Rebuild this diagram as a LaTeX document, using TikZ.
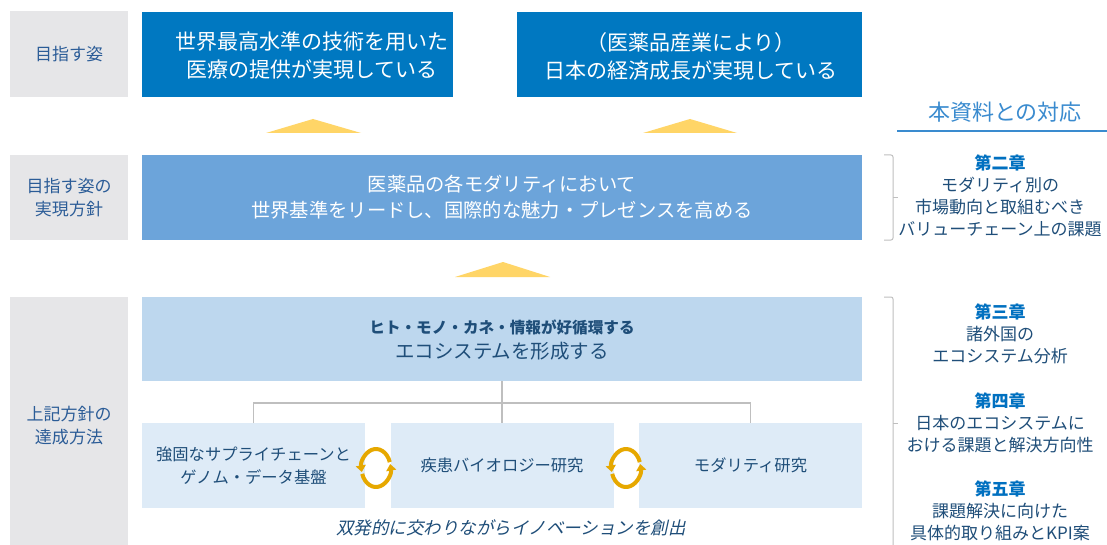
\documentclass[tikz,border=0pt]{standalone}
\usepackage{fontspec}
\setmainfont{Noto Sans CJK JP}
\newfontfamily\slantfont[FakeSlant=0.22]{Noto Sans CJK JP}
\usetikzlibrary{arrows.meta}
\definecolor{graybg}{HTML}{E6E6E8}
\definecolor{topblue}{HTML}{0078C1}
\definecolor{midblue}{HTML}{6CA4DA}
\definecolor{bandblue}{HTML}{BDD7EE}
\definecolor{lightbox}{HTML}{DEEBF7}
\definecolor{navy}{HTML}{1F4E79}
\definecolor{labelblue}{HTML}{2B5C97}
\definecolor{chap}{HTML}{0070C0}
\definecolor{headblue}{HTML}{3A8BCF}
\definecolor{tri}{HTML}{FFD567}
\definecolor{gold}{HTML}{E6A800}
\definecolor{linegray}{HTML}{BFBFBF}
\tikzset{
  fbox/.style={rectangle, inner sep=0pt, outer sep=0pt, align=center},
  graybox/.style={fbox, fill=graybg, text=labelblue, minimum width=118pt, font=\fontsize{17}{23}\selectfont},
  topbox/.style={fbox, fill=topblue, text=white, minimum height=85pt, font=\fontsize{21}{28}\selectfont},
  toptext/.style={align=center, inner sep=0pt, text=white, font=\fontsize{21}{28}\selectfont},
  midbox/.style={fbox, fill=midblue, text=white, minimum width=720pt, minimum height=85pt, font=\fontsize{19.3}{26}\selectfont},
  bandbox/.style={fbox, fill=bandblue, text=navy, minimum width=720pt, minimum height=84pt},
  smallbox/.style={fbox, fill=lightbox, text=navy, minimum width=223pt, minimum height=85pt, font=\fontsize{16.3}{23}\selectfont},
  chaptext/.style={align=center, text=navy, inner sep=0pt, font=\fontsize{17}{22}\selectfont},
  treeline/.style={draw=linegray, line width=1.2pt},
  bracketline/.style={draw=linegray, line width=1pt, rounded corners=2pt},
  cyclearc/.style={draw=gold, line width=4pt, -{Triangle[length=6.5pt,width=10pt]}},
  arrowtri/.style={fill=tri}
}
\newcommand{\chaptitle}[1]{{\bfseries\color{chap}#1}}
\begin{document}
\begin{tikzpicture}[x=1pt,y=-1pt]
\useasboundingbox (0,0) rectangle (1107,545);
\fill[white] (0,0) rectangle (1107,545);
% left labels
\node[graybox, minimum height=86pt] (g1) at (69,54) {目指す姿};
\node[graybox, minimum height=85pt] (g2) at (69,197.5) {目指す姿の\\実現方針};
\node[graybox, minimum height=248pt] (g3) at (69,421) {};
\node[text=labelblue, align=center, inner sep=0pt, font=\fontsize{17}{23}\selectfont] (g3t) at (69,426) {上記方針の\\達成方法};
% top boxes
\node[topbox, minimum width=311pt] (t1) at (297.5,54.5) {};
\node[toptext] (t1t) at (312,56) {世界最高水準の技術を用いた\\医療の提供が実現している};
\node[topbox, minimum width=345pt] (t2) at (689.5,54.5) {};
\node[toptext] (t2t) at (691,56) {（医薬品産業により）\\日本の経済成長が実現している};
% triangles
\fill[arrowtri] (266,133) -- (313,119) -- (361,133) -- cycle;
\fill[arrowtri] (643,133) -- (690,119) -- (737,133) -- cycle;
\fill[arrowtri] (455,277) -- (503,262) -- (550,277) -- cycle;
% middle box
\node[midbox] (mid) at (502,197.5) {医薬品の各モダリティにおいて\\世界基準をリードし、国際的な魅力・プレゼンスを高める};
% band
\node[bandbox] (band) at (502,339) {};
\node[text=navy, align=center, inner sep=0pt] (bandt) at (502,340) {{\fontsize{15.6}{25}\selectfont\bfseries ヒト・モノ・カネ・情報が好循環する}\\[6pt]{\fontsize{19.5}{25}\selectfont エコシステムを形成する}};
% bottom boxes
\node[smallbox] (bA) at (253.5,465.5) {強固なサプライチェーンと\\ゲノム・データ基盤};
\node[smallbox] (bB) at (502,465.5) {疾患バイオロジー研究};
\node[smallbox] (bC) at (750.5,465.5) {モダリティ研究};
% tree
\draw[treeline] (band.south) -- (bB.north);
\draw[treeline] (bA.north) -- ++(0,-20) -| (bC.north);
% cycle icons
\foreach \cx in {376,626}{
  \coordinate (ic) at (\cx,468);
  \draw[cyclearc] ([shift={(18:14.5pt and 19pt)}]ic) arc[start angle=18, end angle=192, x radius=14.5pt, y radius=19pt];
  \draw[cyclearc] ([shift={(198:14.5pt and 19pt)}]ic) arc[start angle=198, end angle=372, x radius=14.5pt, y radius=19pt];
}
% italic caption
\node[text=navy, inner sep=0pt, font=\slantfont\fontsize{17.5}{20}\selectfont] (cap) at (511,528) {双発的に交わりながらイノベーションを創出};
% right header
\node[text=headblue, inner sep=0pt, font=\fontsize{22}{26}\selectfont] (head) at (1005,112) {本資料との対応};
\coordinate (ulL) at (897,131);
\coordinate (ulR) at (1107,131);
\draw[draw=headblue, line width=1.3pt] (ulL) -- (ulR);
% brackets
\draw[bracketline] (884,155) -- (893,155) -- (893,240) -- (884,240);
\draw[bracketline] (893,197.5) -- (898,197.5);
\draw[bracketline] (884,297) -- (893,297) -- (893,548);
\draw[bracketline] (893,423) -- (898,423);
% right texts
\node[chaptext] (c2) at (1000,196) {\chaptitle{第二章}\\モダリティ別の\\市場動向と取組むべき\\バリューチェーン上の課題};
\node[chaptext] (c3) at (1000,334) {\chaptitle{第三章}\\諸外国の\\エコシステム分析};
\node[chaptext] (c4) at (1000,422.5) {\chaptitle{第四章}\\日本のエコシステムに\\おける課題と解決方向性};
\node[chaptext] (c5) at (1000,511) {\chaptitle{第五章}\\課題解決に向けた\\具体的取り組みとKPI案};
\end{tikzpicture}
\end{document}
